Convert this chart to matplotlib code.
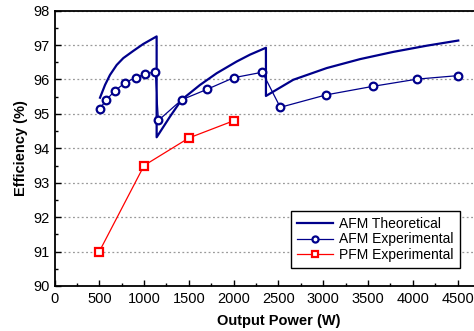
import matplotlib
matplotlib.use("Agg")
import matplotlib.pyplot as plt
from matplotlib.ticker import MultipleLocator, FixedLocator
import numpy as np

plt.rcParams['font.family'] = ['Liberation Sans', 'DejaVu Sans']

# AFM theoretical (three branches, vertical drops at switch points)
theo_p = [508, 564, 619, 694, 768, 880, 991, 1140,
          1140, 1289, 1419, 1624, 1810, 2033, 2182, 2360,
          2360, 2665, 3038, 3410, 3781, 4154, 4507]
theo_e = [95.47, 95.84, 96.13, 96.42, 96.62, 96.83, 97.03, 97.25,
          94.32, 94.92, 95.41, 95.84, 96.18, 96.52, 96.72, 96.92,
          95.52, 95.99, 96.33, 96.59, 96.80, 96.98, 97.13]

# AFM experimental
afm_p = [505, 580, 670, 790, 905, 1010, 1125, 1160, 1420, 1700, 2000,
         2320, 2520, 3030, 3555, 4050, 4500]
afm_e = [95.15, 95.41, 95.66, 95.91, 96.05, 96.16, 96.22, 94.81, 95.41,
         95.71, 96.05, 96.21, 95.19, 95.55, 95.80, 96.01, 96.11]

# PFM experimental
pfm_p = [500, 1000, 1500, 2000]
pfm_e = [91.0, 93.5, 94.3, 94.8]

navy = '#00008B'

fig = plt.figure(figsize=(4.74, 3.31), dpi=100)
ax = fig.add_axes([0.115, 0.136, 0.945, 0.832])

ax.plot(theo_p, theo_e, color=navy, lw=1.6, label='AFM Theoretical')
ax.plot(afm_p, afm_e, color=navy, lw=0.9, marker='o', ms=5.5,
        mfc='white', mec=navy, mew=1.6, label='AFM Experimental')
ax.plot(pfm_p, pfm_e, color='red', lw=0.9, marker='s', ms=5.5,
        mfc='white', mec='red', mew=1.6, label='PFM Experimental')

ax.set_xlim(0, 5000)
ax.set_ylim(90, 98)
ax.xaxis.set_major_locator(FixedLocator(np.arange(0, 4501, 500)))
ax.xaxis.set_minor_locator(FixedLocator(np.arange(250, 4800, 500)))
ax.yaxis.set_major_locator(MultipleLocator(1))
ax.yaxis.set_minor_locator(MultipleLocator(0.5))
ax.tick_params(which='both', direction='in', labelsize=10.5, top=False, right=False)
ax.tick_params(which='major', length=4, width=1)
ax.tick_params(which='minor', length=2, width=1)
ax.tick_params(axis='x', pad=4)
for s in ax.spines.values():
    s.set_linewidth(1.3)

ax.yaxis.grid(True, which='major', linestyle=(0, (1.5, 2)), color='#999999', lw=0.9)
ax.set_axisbelow(True)

ax.set_xlabel('Output Power (W)', fontsize=10.5, fontweight='bold', labelpad=6)
ax.set_ylabel('Efficiency (%)', fontsize=10.5, fontweight='bold', labelpad=4)

leg = fig.legend(loc='center', bbox_to_anchor=(0.608, 0.181, 0.367, 0.191),
                 fontsize=10, frameon=True, fancybox=False, framealpha=1,
                 edgecolor='black', handlelength=2.6, handletextpad=0.4,
                 labelspacing=0.1, borderpad=0.45, markerscale=0.8)
leg.get_frame().set_linewidth(1.0)

fig.savefig('out.png', dpi=100)
